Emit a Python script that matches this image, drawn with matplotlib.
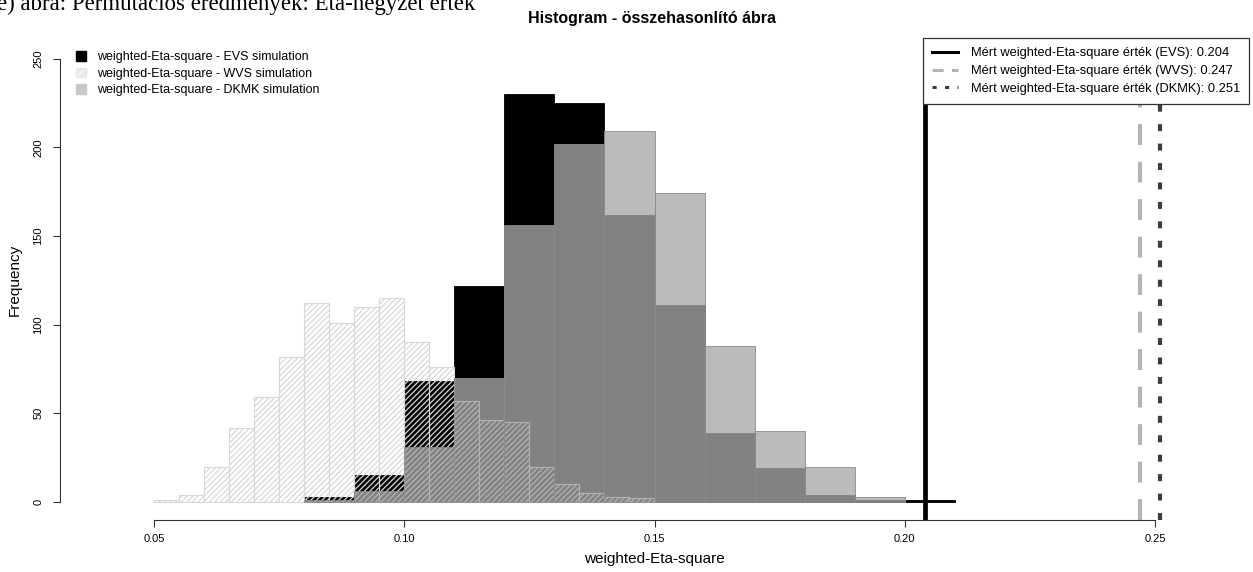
import matplotlib
matplotlib.use('Agg')
import matplotlib.pyplot as plt
from matplotlib.patches import Patch
from matplotlib.lines import Line2D

plt.rcParams['font.family'] = ['Liberation Sans', 'DejaVu Sans']
plt.rcParams['lines.scale_dashes'] = False
plt.rcParams['hatch.linewidth'] = 0.9

# histogram counts
evs_left = [0.08, 0.09, 0.10, 0.11, 0.12, 0.13, 0.14, 0.15, 0.16, 0.17, 0.18, 0.19, 0.20]
evs_counts = [3, 15, 68, 122, 230, 225, 162, 111, 39, 19, 4, 1, 1]

wvs_left = [0.050, 0.055, 0.060, 0.065, 0.070, 0.075, 0.080, 0.085, 0.090, 0.095,
            0.100, 0.105, 0.110, 0.115, 0.120, 0.125, 0.130, 0.135, 0.140, 0.145]
wvs_counts = [1, 4, 20, 42, 59, 82, 112, 101, 110, 115,
              90, 76, 57, 46, 45, 20, 10, 5, 3, 2]

dkmk_left = [0.08, 0.09, 0.10, 0.11, 0.12, 0.13, 0.14, 0.15, 0.16, 0.17, 0.18, 0.19]
dkmk_counts = [1, 6, 31, 70, 156, 202, 209, 174, 88, 40, 20, 3]

measured = {'EVS': 0.204, 'WVS': 0.247, 'DKMK': 0.251}

x_ticks = [0.05, 0.10, 0.15, 0.20, 0.25]
y_ticks = [0, 50, 100, 150, 200, 250]

W, H = 1253, 572
fig = plt.figure(figsize=(W / 100, H / 100), dpi=100)
ax = fig.add_axes([60 / W, 1 - 519.7 / H, (1249 - 60) / W, (519.7 - 41) / H])

dk_face = (0.66, 0.66, 0.66, 0.78)

ax.bar(evs_left, evs_counts, width=0.01, align='edge', color='black',
       edgecolor='black', linewidth=0.6)
ax.bar(wvs_left, wvs_counts, width=0.005, align='edge', facecolor='none',
       edgecolor='#d8d8d8', hatch='//////', linewidth=0.8)
ax.bar(dkmk_left, dkmk_counts, width=0.01, align='edge', color=dk_face,
       edgecolor='#8a8a8a', linewidth=0.6)

ax.axvline(measured['EVS'], color='black', lw=3.4)
ax.axvline(measured['WVS'], color='#b4b4b4', lw=3.0, linestyle=(0, (15, 12)))
ax.axvline(measured['DKMK'], color='#3c3c3c', lw=3.0, linestyle=(0, (5, 9)))

ax.set_xlim(0.0312, 0.2688)
ax.set_ylim(-10, 260)

for s in ['top', 'right']:
    ax.spines[s].set_visible(False)
ax.spines['left'].set_bounds(0, 250)
ax.spines['bottom'].set_bounds(0.05, 0.25)
ax.spines['left'].set_color('#333333')
ax.spines['bottom'].set_color('#333333')

ax.set_xticks(x_ticks)
ax.set_xticklabels(['%.2f' % v for v in x_ticks])
ax.set_yticks(y_ticks)
ax.set_yticklabels([str(v) for v in y_ticks], rotation=90, va='center')
ax.tick_params(axis='both', length=5, width=0.8, labelsize=8, color='#333333')
ax.tick_params(axis='y', pad=7)
ax.tick_params(axis='x', pad=5)

ax.set_xlabel('weighted-Eta-square', fontsize=11, labelpad=6)
ax.set_ylabel('Frequency', fontsize=11, labelpad=8)
fig.suptitle('Histogram - összehasonlító ábra', fontsize=11.5, fontweight='bold',
             x=0.52, y=1 - 18 / H, va='center')

fig.text(-0.002, 1 - 10 / H, 'e) ábra: Permutációs eredmények: Eta-négyzet érték',
         family=['Liberation Serif', 'DejaVu Serif'], fontsize=16.5, va='baseline')

left_handles = [Patch(facecolor='black', edgecolor='black'),
                Patch(facecolor='#f0f0f0', edgecolor='#e6e6e6', hatch='////'),
                Patch(facecolor='#c8c8c8', edgecolor='#c8c8c8')]
left_labels = ['weighted-Eta-square - EVS simulation',
               'weighted-Eta-square - WVS simulation',
               'weighted-Eta-square - DKMK simulation']
leg1 = ax.legend(left_handles, left_labels, loc='upper left',
                 bbox_to_anchor=(0.005, 1.0), frameon=False, fontsize=9,
                 handlelength=0.8, handleheight=0.8, handletextpad=0.9,
                 labelspacing=0.35, borderaxespad=0.4)
ax.add_artist(leg1)

right_handles = [Line2D([], [], color='black', lw=2.2),
                 Line2D([], [], color='#b4b4b4', lw=2.2, linestyle=(0, (8, 6))),
                 Line2D([], [], color='#3c3c3c', lw=2.2, linestyle=(0, (3, 6)))]
right_labels = ['Mért weighted-Eta-square érték (%s): %.3f' % (k, v)
                for k, v in measured.items()]
leg2 = ax.legend(right_handles, right_labels, loc='upper right',
                 bbox_to_anchor=(1.0, 1.006), fancybox=False, framealpha=1,
                 edgecolor='#333333', fontsize=9.3, handlelength=2.0,
                 handletextpad=1.0, labelspacing=0.45, borderaxespad=0.0,
                 borderpad=0.7)
leg2.get_frame().set_linewidth(0.9)

fig.savefig('out.png', dpi=100)
